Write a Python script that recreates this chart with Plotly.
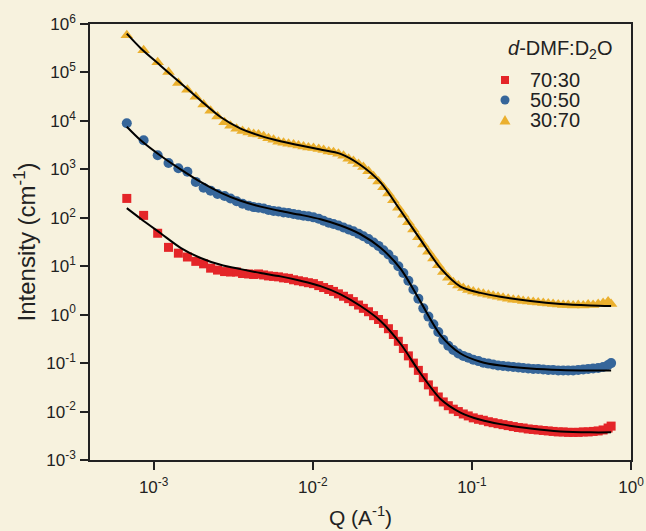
import plotly.graph_objects as go

# ---- data ----
q = [6.78e-4, 8.65e-4, 1.06e-3, 1.24e-3, 1.43e-3, 1.63e-3, 1.84e-3, 2.06e-3, 2.28e-3, 2.52e-3,
     2.79e-3, 3.04e-3, 3.32e-3, 3.62e-3, 3.95e-3, 4.25e-3, 4.56e-3, 4.91e-3, 5.27e-3, 5.67e-3,
     6.09e-3, 6.55e-3, 7.04e-3, 7.57e-3, 8.13e-3, 8.74e-3, 9.39e-3, 1.01e-2, 1.09e-2, 1.17e-2,
     1.26e-2, 1.35e-2, 1.45e-2, 1.56e-2, 1.68e-2, 1.80e-2, 1.94e-2, 2.08e-2, 2.24e-2, 2.41e-2,
     2.59e-2, 2.78e-2, 2.99e-2, 3.21e-2, 3.45e-2, 3.71e-2, 3.99e-2, 4.29e-2, 4.61e-2, 4.95e-2,
     5.33e-2, 5.73e-2, 6.15e-2, 6.61e-2, 7.11e-2, 7.64e-2, 8.22e-2, 8.83e-2, 9.49e-2, 0.102,
     0.110, 0.118, 0.127, 0.136, 0.146, 0.157, 0.169, 0.182, 0.196, 0.210,
     0.226, 0.243, 0.261, 0.281, 0.302, 0.324, 0.349, 0.375, 0.403, 0.433,
     0.466, 0.501, 0.538, 0.578, 0.622, 0.668, 0.718, 0.75]

i_30_70 = [5.89e5, 2.88e5, 1.62e5, 1.02e5, 6.03e4, 4.37e4, 3.16e4, 2.19e4, 1.62e4, 1.23e4,
           9.33e3, 7.94e3, 6.92e3, 6.17e3, 5.75e3, 5.37e3, 5.25e3, 4.79e3, 4.37e3, 4.07e3,
           3.72e3, 3.55e3, 3.39e3, 3.24e3, 3.09e3, 2.95e3, 2.82e3, 2.75e3, 2.63e3, 2.51e3,
           2.34e3, 2.24e3, 2.09e3, 1.91e3, 1.66e3, 1.48e3, 1.29e3, 1.12e3, 912, 724,
           562, 427, 316, 229, 162, 115, 81.3, 57.5, 39.8, 28.2,
           20.0, 14.5, 10.5, 7.59, 5.75, 4.68, 3.98, 3.55, 3.24, 3.02,
           2.82, 2.69, 2.57, 2.45, 2.34, 2.24, 2.14, 2.04, 2.00, 1.91,
           1.86, 1.82, 1.78, 1.74, 1.70, 1.66, 1.62, 1.58, 1.58, 1.55,
           1.58, 1.55, 1.62, 1.58, 1.66, 1.74, 1.86, 1.66]

i_50_50 = [8.91e3, 3.98e3, 1.95e3, 1.35e3, 1.05e3, 891, 550, 417, 363, 309,
           282, 251, 219, 195, 178, 166, 162, 155, 145, 138,
           135, 129, 126, 120, 115, 110, 107, 102, 95.5, 87.1,
           79.4, 74.1, 69.2, 63.1, 57.5, 52.5, 46.8, 41.7, 36.3, 30.9,
           26.3, 21.4, 17.4, 13.5, 10.0, 7.24, 5.01, 3.31, 2.14, 1.35,
           0.912, 0.631, 0.437, 0.302, 0.229, 0.186, 0.158, 0.141, 0.129, 0.117,
           0.110, 0.102, 0.0977, 0.0933, 0.0891, 0.0871, 0.0851, 0.0832, 0.0813, 0.0794,
           0.0776, 0.0759, 0.0759, 0.0741, 0.0724, 0.0724, 0.0708, 0.0708, 0.0708, 0.0708,
           0.0724, 0.0741, 0.0759, 0.0776, 0.0794, 0.0832, 0.0912, 0.100]

i_70_30 = [251, 112, 47.9, 24.5, 18.6, 15.5, 12.6, 11.2, 9.12, 8.32,
           7.76, 7.59, 7.59, 7.08, 6.92, 6.76, 6.92, 6.61, 6.31, 6.17,
           6.03, 5.75, 5.62, 5.25, 5.01, 4.79, 4.57, 4.37, 3.98, 3.63,
           3.31, 3.02, 2.69, 2.40, 2.14, 1.86, 1.58, 1.35, 1.15, 0.955,
           0.794, 0.661, 0.513, 0.389, 0.282, 0.200, 0.141, 0.100, 0.0708, 0.0501,
           0.0355, 0.0263, 0.0200, 0.0158, 0.0132, 0.0112, 0.0100, 0.00891, 0.00813, 0.00741,
           0.00692, 0.00661, 0.00617, 0.00589, 0.00562, 0.00537, 0.00513, 0.00490, 0.00468, 0.00457,
           0.00437, 0.00427, 0.00417, 0.00407, 0.00398, 0.00389, 0.00380, 0.00380, 0.00372, 0.00372,
           0.00372, 0.00380, 0.00380, 0.00389, 0.00398, 0.00417, 0.00457, 0.00501]

# fitted model curves
q_fit = [6.78e-4, 8.29e-4, 1.106e-3, 1.477e-3, 1.973e-3, 2.634e-3, 3.52e-3, 4.70e-3, 6.27e-3, 8.38e-3,
         1.119e-2, 1.495e-2, 1.996e-2, 2.666e-2, 3.56e-2, 4.75e-2, 6.35e-2, 8.48e-2, 0.1132, 0.1512,
         0.2335, 0.3605, 0.557, 0.75]
fit_30_70 = [6.31e5, 3.16e5, 1.38e5, 6.03e4, 2.63e4, 1.20e4, 6.92e3, 4.90e3, 3.80e3, 3.09e3,
             2.57e3, 2.09e3, 1.23e3, 537, 141, 35.5, 9.12, 3.80, 2.82, 2.34,
             1.91, 1.66, 1.55, 1.51]
fit_50_50 = [7.59e3, 3.98e3, 1.91e3, 1.00e3, 550, 331, 224, 170, 138, 115,
             93.3, 69.2, 45.7, 24.0, 8.91, 1.86, 0.380, 0.158, 0.107, 0.0891,
             0.0776, 0.0724, 0.0708, 0.0708]
fit_70_30 = [158, 95.5, 47.9, 24.0, 14.8, 10.7, 8.71, 7.24, 6.17, 5.01,
             3.89, 2.63, 1.51, 0.741, 0.251, 0.0617, 0.0182, 0.00955, 0.00676, 0.00550,
             0.00447, 0.00389, 0.00372, 0.00372]

series_names = ["70:30", "50:50", "30:70"]
legend_title = "<i>d</i>-DMF:D<sub>2</sub>O"
x_ticks = [1e-3, 1e-2, 1e-1, 1]
x_tick_text = ["10<sup>-3</sup>", "10<sup>-2</sup>", "10<sup>-1</sup>", "10<sup>0</sup>"]
y_ticks = [1e-3, 1e-2, 1e-1, 1, 1e1, 1e2, 1e3, 1e4, 1e5, 1e6]
y_tick_text = ["10<sup>-3</sup>", "10<sup>-2</sup>", "10<sup>-1</sup>", "10<sup>0</sup>",
               "10<sup>1</sup>", "10<sup>2</sup>", "10<sup>3</sup>", "10<sup>4</sup>",
               "10<sup>5</sup>", "10<sup>6</sup>"]

# ---- styling ----
BG = "#F7F2DE"
RED = "#E42528"
BLUE = "#36669A"
YELLOW = "#EBB02E"
TXT = "#222222"
FONT = "Liberation Sans, Arial, sans-serif"

fig = go.Figure()
fig.add_trace(go.Scatter(x=q, y=i_70_30, mode="markers", name=series_names[0],
                         marker=dict(symbol="square", size=9, color=RED)))
fig.add_trace(go.Scatter(x=q, y=i_50_50, mode="markers", name=series_names[1],
                         marker=dict(symbol="circle", size=10, color=BLUE)))
fig.add_trace(go.Scatter(x=q, y=i_30_70, mode="markers", name=series_names[2],
                         marker=dict(symbol="triangle-up", size=11, color=YELLOW)))
for yfit in (fit_70_30, fit_50_50, fit_30_70):
    fig.add_trace(go.Scatter(x=q_fit, y=yfit, mode="lines", showlegend=False,
                             line=dict(color="black", width=2, shape="spline", smoothing=0.8),
                             hoverinfo="skip"))

axis_common = dict(showline=True, linecolor=TXT, linewidth=1.5, mirror=True,
                   ticks="outside", ticklen=8, tickwidth=1.5, tickcolor=TXT,
                   showgrid=False, zeroline=False, automargin=False,
                   tickfont=dict(family=FONT, size=17, color=TXT))

# manual legend (the reference uses tight line spacing)
L, T, W, H = 90, 24, 541, 436  # plot area in pixels
def px(xp):
    return (xp - L) / W
def py(yp):
    return (T + H - yp) / H

annotations = [dict(text=legend_title, xref="paper", yref="paper", x=px(506), y=py(50),
                    xanchor="left", yanchor="middle", showarrow=False,
                    font=dict(family=FONT, size=20, color=TXT))]
item_y = [80, 100, 120]
for name, yy in zip(series_names, item_y):
    annotations.append(dict(text=name, xref="paper", yref="paper", x=px(528), y=py(yy),
                            xanchor="left", yanchor="middle", showarrow=False,
                            font=dict(family=FONT, size=20, color=TXT)))

mx = px(505)
shapes = [
    dict(type="rect", xref="paper", yref="paper", xsizemode="pixel", ysizemode="pixel",
         xanchor=mx, yanchor=py(item_y[0]), x0=-4, x1=4, y0=-4, y1=4,
         fillcolor=RED, line=dict(width=0)),
    dict(type="circle", xref="paper", yref="paper", xsizemode="pixel", ysizemode="pixel",
         xanchor=mx, yanchor=py(item_y[1]), x0=-4.5, x1=4.5, y0=-4.5, y1=4.5,
         fillcolor=BLUE, line=dict(width=0)),
    dict(type="path", xref="paper", yref="paper", xsizemode="pixel", ysizemode="pixel",
         xanchor=mx, yanchor=py(item_y[2]), path="M -5.5,-4.5 L 5.5,-4.5 L 0,5 Z",
         fillcolor=YELLOW, line=dict(width=0)),
]

fig.update_layout(
    width=646, height=531,
    paper_bgcolor=BG, plot_bgcolor=BG,
    margin=dict(l=L, r=646 - L - W, t=T, b=531 - T - H),
    font=dict(family=FONT, color=TXT),
    xaxis=dict(type="log", range=[-3.40, 0], tickvals=x_ticks, ticktext=x_tick_text,
               title=dict(text="Q (A<sup>-1</sup>)", font=dict(size=21), standoff=14),
               ticklabelstandoff=3, **axis_common),
    yaxis=dict(type="log", range=[-3, 6], tickvals=y_ticks, ticktext=y_tick_text,
               title=dict(text="Intensity (cm<sup>-1</sup>)", font=dict(size=24), standoff=4),
               ticklabelstandoff=1, **axis_common),
    showlegend=False,
    annotations=annotations,
    shapes=shapes,
)

fig.write_html("out.html", config={"displayModeBar": False},
               post_script="document.body.style.margin='0';document.body.style.background='%s';" % BG)
